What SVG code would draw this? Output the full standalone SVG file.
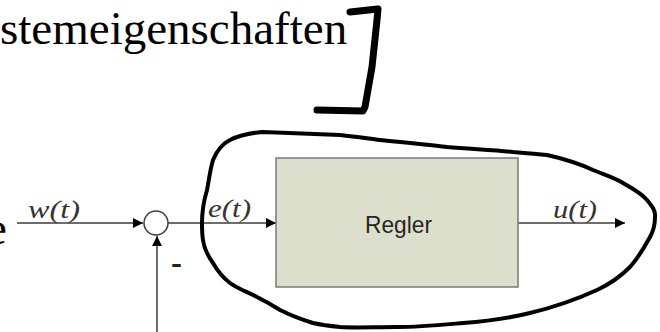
<svg xmlns="http://www.w3.org/2000/svg" width="660" height="332" viewBox="0 0 660 332">
<defs>
<marker id="arr" viewBox="0 0 10 10" refX="10" refY="5" markerWidth="10" markerHeight="10" markerUnits="userSpaceOnUse" orient="auto">
<path d="M0,0 L10,5 L0,10 Z" fill="#000"/>
</marker>
<style>
.big{font-family:"Liberation Serif","Times New Roman",serif;font-size:47px;fill:#000}
.lbl{font-family:"Liberation Serif","Times New Roman",serif;font-style:italic;font-size:26px;fill:#333}
.sig{stroke:#3c3c3c;stroke-width:1.5;fill:none}
.ink{stroke:#000;fill:none;stroke-linecap:round;stroke-linejoin:round}
</style>
</defs>
<rect width="660" height="332" fill="#fff"/>
<text class="big" x="0" y="44">stemeigenschaften</text>
<text class="big" x="-14" y="244">e</text>
<path class="ink" stroke-width="7" d="M350,12 L378,9 L377,20 L372,67 L365,107 L363,111 L317,110"/>
<g id="connectors">
<line class="sig" x1="17" y1="223" x2="143" y2="223" marker-end="url(#arr)"/>
<line class="sig" x1="168" y1="223" x2="276" y2="223" marker-end="url(#arr)"/>
<line class="sig" x1="518" y1="223" x2="625" y2="223" marker-end="url(#arr)"/>
<line class="sig" x1="157" y1="332" x2="157" y2="236" marker-end="url(#arr)"/>
<text class="lbl" x="28" y="218" textLength="52" lengthAdjust="spacingAndGlyphs">w(t)</text>
<text class="lbl" x="208" y="217" textLength="43" lengthAdjust="spacingAndGlyphs">e(t)</text>
<text class="lbl" x="553" y="218" textLength="44" lengthAdjust="spacingAndGlyphs">u(t)</text>
</g>
<g id="sum">
<circle cx="156" cy="223" r="12" fill="#fff" stroke="#3c3c3c" stroke-width="1.5"/>
<text x="171" y="272" font-family="Liberation Sans,Arial,sans-serif" font-weight="bold" font-size="26" fill="#222" textLength="11" lengthAdjust="spacingAndGlyphs">-</text>
</g>
<g id="regler">
<rect x="276" y="158" width="242" height="129" fill="#dcdfcb" stroke="#7a7a7a" stroke-width="1.5"/>
<text x="398.5" y="233" text-anchor="middle" font-family="Liberation Sans,Arial,sans-serif" font-size="24" fill="#262626" textLength="67" lengthAdjust="spacingAndGlyphs">Regler</text>
</g>
<path class="ink" stroke-width="4" d="M262,132 C290,133 320,134 340,135 C360,137 370,139 380,140 C410,143 430,145 447,147 C470,149 495,150 513,152 C525,153 537,154 547,155 C565,159 580,164 593,170 C605,175 615,178 623,183 C633,189 641,193 647,200 C652,206 656,211 655,217 C655,224 654,230 650,237 C644,248 639,257 630,267 C620,277 610,284 597,290 C575,300 555,307 530,313 C510,318 490,321 463,323 C440,325 420,327 397,327 C375,327 355,328 340,327 C330,326 322,325 313,323 C300,319 290,315 280,310 C272,305 265,301 257,297 C248,292 238,289 230,283 C222,277 217,270 213,263 C208,256 204,248 203,240 C202,234 202,229 202,223 C202,212 204,200 207,190 C209,180 210,170 213,160 C217,150 222,144 230,140 C240,135 250,133 262,132 Z"/>
</svg>
